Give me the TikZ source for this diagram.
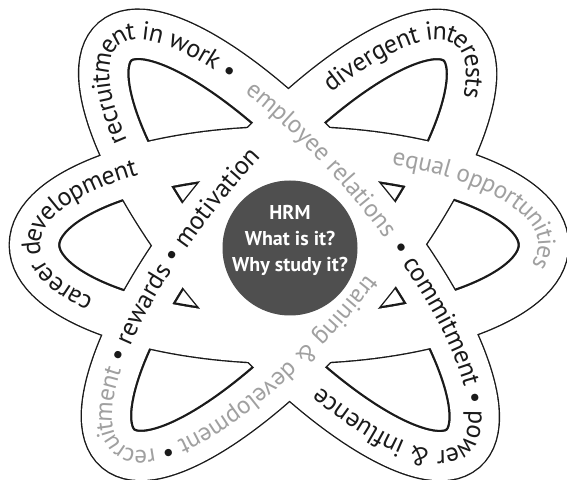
\documentclass[tikz,border=0pt]{standalone}
\usepackage{fontspec}
\setmainfont{PT Sans}
\usetikzlibrary{decorations.text}
\definecolor{atomink}{HTML}{1A1A1A}
\definecolor{atomgrey}{HTML}{A0A0A0}
\definecolor{hubfill}{HTML}{4F4F4F}
\newcommand{\ringink}{\fontsize{26}{26}\selectfont\color{atomink}}
\newcommand{\ringgrey}{\fontsize{25}{25}\selectfont\color{atomgrey}}

\begin{document}
\begin{tikzpicture}[
  x=1pt,
  y=1pt,
  bandedge/.style={atomink, line width=50.8pt},
  bandfill/.style={white, line width=48pt},
  hub/.style={circle, fill=hubfill, minimum size=135pt, inner sep=0pt},
  hubtext/.style={white, font=\fontsize{20}{26}\selectfont\bfseries,
                  align=center},
  ringtext/.style={decorate, decoration={text along path, text align=left,
                   raise=-6pt, text={#1}}}
]
  \useasboundingbox (0,0) rectangle (567,479);

  % ---- bands: all black edges first, then the white cores ----
  \begin{scope}[shift={(289,234)}]
    \foreach \rot/\a/\b in {0/255/94, -49.5/268/85, 50/266/85}
      \draw[bandedge, rotate=\rot] (0,0) ellipse[x radius=\a pt, y radius=\b pt];
    % inner edges a little heavier
    \foreach \rot/\a/\b in {0/254/93, -49.5/267/84, 50/265/84}
      \draw[bandedge, rotate=\rot] (0,0) ellipse[x radius=\a pt, y radius=\b pt];
    \foreach \rot/\a/\b in {0/255/94, -49.5/268/85, 50/266/85}
      \draw[bandfill, rotate=\rot] (0,0) ellipse[x radius=\a pt, y radius=\b pt];
    % the hub hides the middle, no edges round it
    \fill[white] (0,0) circle[radius=82pt];

    % ---- horizontal band ----
    \path[ringtext={|\ringink|career development}]
      (219:255pt and 94pt) arc[start angle=219, end angle=90,
                               x radius=255pt, y radius=94pt];
    \path[ringtext={|\ringgrey|equal opportunities}]
      (66:255pt and 94pt) arc[start angle=66, end angle=-80,
                              x radius=255pt, y radius=94pt];

    % ---- band from top left to bottom right ----
    \begin{scope}[rotate=-49.5]
      \path[ringtext={|\ringink|recruitment in work •}]
        (226:268pt and 85pt) arc[start angle=226, end angle=90,
                                 x radius=268pt, y radius=85pt];
      \path[ringtext={|\ringgrey|employee relations}]
        (123:268pt and 85pt) arc[start angle=123, end angle=40,
                                 x radius=268pt, y radius=85pt];
      \path[ringtext={|\ringink|• commitment • power {\&} influence}]
        (75:268pt and 85pt) arc[start angle=75, end angle=-110,
                                x radius=268pt, y radius=85pt];
    \end{scope}

    % ---- band from bottom left to top right ----
    \begin{scope}[rotate=50]
      \path[ringtext={|\ringgrey|training {\&} development |\ringink|• |\ringgrey|recruitment |\ringink|• rewards • motivation}]
        (-84:266pt and 85pt) arc[start angle=-84, end angle=-320,
                                 x radius=266pt, y radius=85pt];
      \path[ringtext={|\ringink|divergent interests}]
        (57:266pt and 85pt) arc[start angle=57, end angle=-80,
                                x radius=266pt, y radius=85pt];
    \end{scope}
  \end{scope}

  % ---- centre ----
  \node[hub] (hub) at (290,231) {};
  \node[hubtext] (hublabel) at (290,239) {HRM\\What is it?\\Why study it?};
\end{tikzpicture}
\end{document}
